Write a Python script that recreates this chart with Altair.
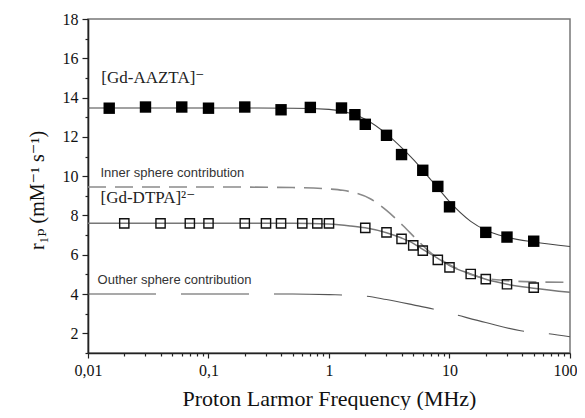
import altair as alt
import pandas as pd

# ---- data ----
aazta_f = [0.015, 0.03, 0.06, 0.1, 0.2, 0.4, 0.7, 1.27, 1.64, 2, 3, 4, 6, 8, 10, 20, 30, 50]
aazta_r = [13.46, 13.52, 13.52, 13.46, 13.52, 13.38, 13.5, 13.47, 13.13, 12.64, 12.08, 11.1, 10.3, 9.48, 8.44, 7.14, 6.9, 6.69]

dtpa_f = [0.02, 0.04, 0.07, 0.1, 0.2, 0.3, 0.4, 0.6, 0.8, 1, 2, 3, 4, 5, 6, 8, 10, 15, 20, 30, 50]
dtpa_r = [7.6, 7.6, 7.6, 7.6, 7.6, 7.6, 7.6, 7.6, 7.6, 7.6, 7.37, 7.14, 6.81, 6.48, 6.21, 5.74, 5.36, 5.02, 4.76, 4.5, 4.33]

aazta_fit_f = [0.01, 0.1, 0.5, 1, 1.5, 2, 3, 4, 5, 6, 8, 10, 15, 20, 30, 50, 100]
aazta_fit_r = [13.47, 13.47, 13.46, 13.4, 13.2, 12.9, 12.15, 11.45, 10.85, 10.3, 9.4, 8.7, 7.7, 7.25, 6.9, 6.65, 6.42]

dtpa_fit_f = [0.01, 0.1, 0.5, 1, 1.5, 2, 3, 4, 5, 6, 8, 10, 15, 20, 30, 50, 100]
dtpa_fit_r = [7.6, 7.6, 7.6, 7.56, 7.47, 7.37, 7.12, 6.85, 6.58, 6.27, 5.82, 5.45, 5.02, 4.75, 4.5, 4.3, 4.09]

inner_f = [0.01, 0.1, 0.5, 1, 1.3, 2.2, 3, 4.1, 5.4, 7, 10, 15, 20, 30, 50, 100]
inner_r = [9.45, 9.45, 9.42, 9.35, 9.28, 8.85, 8.26, 7.49, 6.75, 6.1, 5.5, 5.0, 4.8, 4.68, 4.62, 4.6]

outer_f = [0.01, 0.1, 0.5, 1, 2, 3, 5, 7.3, 10, 20, 39, 62, 100]
outer_r = [4.0, 4.0, 4.0, 3.97, 3.9, 3.72, 3.45, 3.24, 3.03, 2.55, 2.13, 2.0, 1.83]

serif_labels = ["[Gd-AAZTA]\u207b", "[Gd-DTPA]\u00b2\u207b"]
serif_label_f = [0.0129, 0.0127]
serif_label_r = [14.73, 8.66]

sans_labels = ["Inner sphere contribution", "Outher sphere contribution"]
sans_label_f = [0.0127, 0.0120]
sans_label_r = [9.94, 4.53]

x_major = [0.01, 0.1, 1, 10]
x_last = [100]
x_minor = [0.02, 0.03, 0.04, 0.05, 0.06, 0.07, 0.08, 0.09,
           0.2, 0.3, 0.4, 0.5, 0.6, 0.7, 0.8, 0.9,
           2, 3, 4, 5, 6, 7, 8, 9,
           20, 30, 40, 50, 60, 70, 80, 90]
y_major = [2, 4, 6, 8, 10, 12, 14, 16, 18]
y_minor = [1, 3, 5, 7, 9, 11, 13, 15, 17]

SERIF = "Liberation Serif, Times New Roman, DejaVu Serif, serif"
SANS = "Liberation Sans, Arial, sans-serif"

xs = alt.Scale(type="log", domain=[0.01, 100], nice=False)
ys = alt.Scale(domain=[1, 18], nice=False, zero=False)

x_axis = alt.Axis(
    values=x_major, orient="bottom", grid=False,
    labelExpr="replace(format(datum.value, '~g'), '.', ',')",
    labelFont=SERIF, labelFontSize=16, labelColor="#111", labelFlush=False,
    labelOverlap=False, labelPadding=4, tickSize=5,
    title="Proton Larmor Frequency (MHz)", titleFont=SERIF, titleFontSize=22,
    titleFontWeight="normal", titleColor="#111", titleBaseline="alphabetic",
    titleY=52, titleX=241,
)
x_axis_last = alt.Axis(
    values=x_last, orient="bottom", grid=False, domain=False,
    labelFont=SERIF, labelFontSize=16, labelColor="#111", labelFlush=False,
    labelOverlap=False, labelPadding=4, tickSize=5, labelOffset=-5, title=None,
)
y_axis = alt.Axis(
    values=y_major, orient="left", grid=False,
    labelFont=SERIF, labelFontSize=16, labelColor="#111", labelPadding=4,
    labelOverlap=False, labelFlush=False, tickSize=6,
    title="r\u2081\u209a (mM\u207b\u00b9 s\u207b\u00b9)", titleFont=SERIF, titleFontSize=20,
    titleFontWeight="normal", titleColor="#111", titleBaseline="alphabetic",
    titleX=-45, titleY=171, titleAngle=270,
)
x_axis_minor = alt.Axis(values=x_minor, orient="bottom", grid=False, labels=False,
                        domain=False, tickSize=3, title=None)
y_axis_minor = alt.Axis(values=y_minor, orient="left", grid=False, labels=False,
                        domain=False, tickSize=3, title=None)


def df(f, r):
    return pd.DataFrame({"f": f, "r": r})


def enc(ch, xa=None, ya=None):
    return ch.encode(x=alt.X("f:Q", scale=xs, axis=xa), y=alt.Y("r:Q", scale=ys, axis=ya))


aazta_fit = enc(alt.Chart(df(aazta_fit_f, aazta_fit_r)).mark_line(
    color="#444", strokeWidth=1.1, interpolate="monotone"), x_axis, y_axis)

dtpa_fit = enc(alt.Chart(df(dtpa_fit_f, dtpa_fit_r)).mark_line(
    color="#777", strokeWidth=1.5, interpolate="monotone"), x_axis_minor, y_axis_minor)

inner = enc(alt.Chart(df(inner_f, inner_r)).mark_line(
    color="#8a8a8a", strokeWidth=1.6, strokeDash=[18, 9], interpolate="monotone"), x_axis_last)

outer = enc(alt.Chart(df(outer_f, outer_r)).mark_line(
    color="#555", strokeWidth=1.1, strokeDash=[68, 25], interpolate="monotone"))

aazta_pts = enc(alt.Chart(df(aazta_f, aazta_r)).mark_point(
    shape="square", filled=True, color="#000", size=130, opacity=1))

dtpa_pts = enc(alt.Chart(df(dtpa_f, dtpa_r)).mark_point(
    shape="square", filled=False, color="#111", size=85, strokeWidth=1.4, opacity=1))

serif_txt = alt.Chart(pd.DataFrame({"f": serif_label_f, "r": serif_label_r, "t": serif_labels})).mark_text(
    align="left", baseline="alphabetic", font=SERIF, fontSize=17, color="#222"
).encode(x=alt.X("f:Q", scale=xs, axis=None), y=alt.Y("r:Q", scale=ys, axis=None), text="t:N")

sans_txt = alt.Chart(pd.DataFrame({"f": sans_label_f, "r": sans_label_r, "t": sans_labels})).mark_text(
    align="left", baseline="alphabetic", font=SANS, fontSize=13, color="#333"
).encode(x=alt.X("f:Q", scale=xs, axis=None), y=alt.Y("r:Q", scale=ys, axis=None), text="t:N")

chart = alt.layer(
    aazta_fit, dtpa_fit, inner, outer, aazta_pts, dtpa_pts, serif_txt, sans_txt
).resolve_axis(
    x="independent", y="independent"
).properties(
    width=482, height=334,
    autosize=alt.AutoSizeParams(type="none"),
    padding={"left": 80, "top": 11, "right": 7, "bottom": 57},
    background="white",
).configure_view(
    stroke="#777", strokeWidth=1.5
).configure_axis(
    domainColor="#222", domainWidth=1.6, tickColor="#222", tickWidth=1.2
)

chart.save("out.html", embed_options={"renderer": "svg", "actions": False})
